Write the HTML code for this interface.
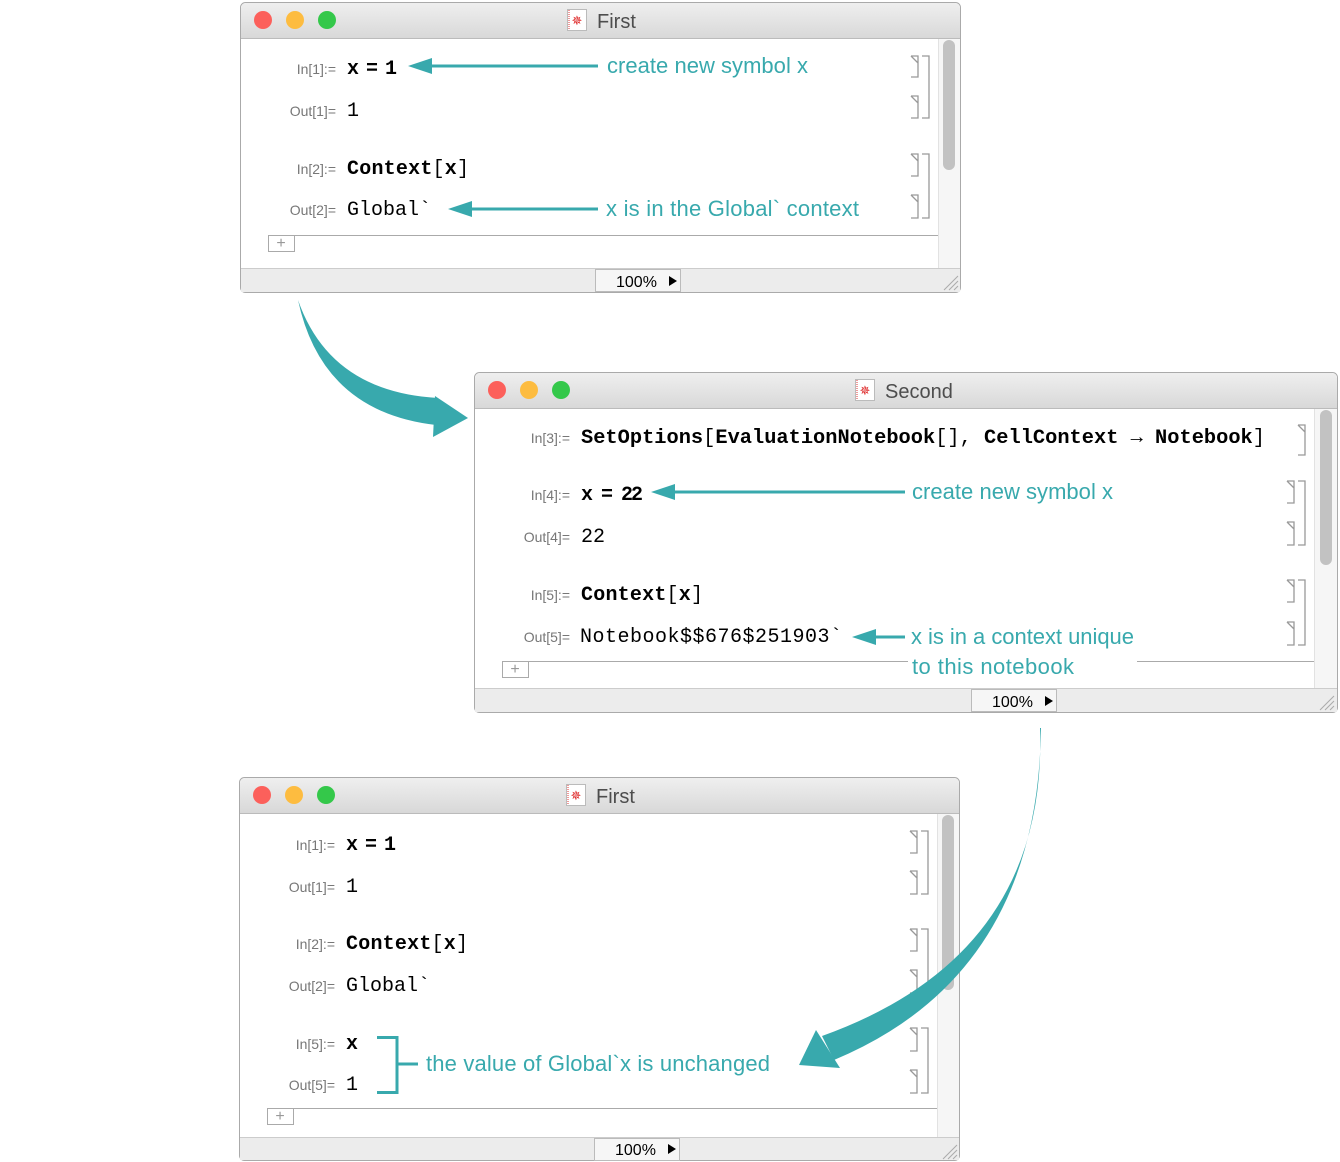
<!DOCTYPE html>
<html><head><meta charset="utf-8"><style>
html,body{margin:0;padding:0;background:#fff;width:1340px;height:1162px;overflow:hidden}
svg{display:block}
.lb{font-family:"Liberation Sans",sans-serif;font-size:14px;fill:#777}
.cd{font-family:"Liberation Mono",monospace;font-size:20px;fill:#000}
.b{font-weight:bold}
.an{font-family:"Liberation Sans",sans-serif;font-size:22px;fill:#38a9ad}
.tt{font-family:"Liberation Sans",sans-serif;font-size:20px;fill:#4d4d4d}
.st{font-family:"Liberation Sans",sans-serif;font-size:16px;fill:#000}
.br{fill:none;stroke:#999;stroke-width:1.3}
</style></head><body>
<svg width="1340" height="1162" viewBox="0 0 1340 1162" xmlns="http://www.w3.org/2000/svg">
<defs>
<linearGradient id="tg" x1="0" y1="0" x2="0" y2="1"><stop offset="0" stop-color="#efefef"/><stop offset="1" stop-color="#d8d8d8"/></linearGradient>
<symbol id="ic" viewBox="0 0 20 22"><rect x="0.5" y="0.5" width="19" height="21" fill="#fff" stroke="#bbb"/><line x1="2" y1="1" x2="2" y2="21" stroke="#d33" stroke-dasharray="1 1"/><text x="10" y="16" font-size="13" text-anchor="middle" fill="#d22" font-family="DejaVu Sans">✵</text></symbol>
</defs>

<!-- WINDOW 1 -->
<g>
<rect x="240.5" y="2.5" width="720" height="290" rx="5" fill="#fff" stroke="#aaa"/>
<path d="M241 38 V8 a5 5 0 0 1 5 -5 H955 a5 5 0 0 1 5 5 V38 Z" fill="url(#tg)"/>
<line x1="241" y1="38.5" x2="960" y2="38.5" stroke="#bbb"/>
<circle cx="263" cy="20" r="9" fill="#fc605b"/><circle cx="295" cy="20" r="9" fill="#fdbc40"/><circle cx="327" cy="20" r="9" fill="#34c84a"/>
<use href="#ic" x="567" y="9" width="20" height="22"/>
<text x="597" y="28" class="tt">First</text>
<rect x="938" y="39" width="22" height="229" fill="#f6f6f6"/><line x1="938.5" y1="39" x2="938.5" y2="268" stroke="#e2e2e2"/>
<rect x="943" y="40" width="12" height="130" rx="6" fill="#c2c2c2"/>
<rect x="241" y="268" width="719" height="24" fill="#ececec"/><line x1="241" y1="268.5" x2="960" y2="268.5" stroke="#ccc"/>
<rect x="595.5" y="269.5" width="85" height="22" fill="#f6f6f6" stroke="#bbb"/>
<text x="616" y="287" class="st">100%</text><path d="M669 276 L677 281 L669 286 Z" fill="#000"/>
<path d="M944 290 L958 276 M949 290 L958 281 M954 290 L958 286" stroke="#aaa"/>
<line x1="268" y1="235.5" x2="938" y2="235.5" stroke="#aaa"/>
<path d="M268.5 236 V251.5 H294.5 V236" fill="none" stroke="#aaa"/><text x="281" y="248" font-size="16" fill="#999" text-anchor="middle" font-family="Liberation Sans">+</text>
<text x="336" y="74" class="lb" text-anchor="end">In[1]:=</text>
<text x="347" y="74" class="cd b" textLength="50">x = 1</text>
<text x="336" y="116" class="lb" text-anchor="end">Out[1]=</text>
<text x="347" y="116" class="cd">1</text>
<text x="336" y="174" class="lb" text-anchor="end">In[2]:=</text>
<text x="347" y="174" class="cd" textLength="122"><tspan class="b">Context</tspan>[<tspan class="b">x</tspan>]</text>
<text x="336" y="215" class="lb" text-anchor="end">Out[2]=</text>
<text x="347" y="215" class="cd" textLength="84">Global`</text>
<path class="br" d="M911 56 H918 V77 H911 M911 56 L918 63 M911 96 H918 V118 H911 M911 96 L918 103 M922 56 H929 V118 H922 M911 154 H918 V176 H911 M911 154 L918 161 M911 195 H918 V218 H911 M911 195 L918 202 M922 154 H929 V218 H922"/>
</g>

<!-- WINDOW 2 -->
<g>
<rect x="474.5" y="372.5" width="863" height="340" rx="5" fill="#fff" stroke="#aaa"/>
<path d="M475 408 V378 a5 5 0 0 1 5 -5 H1332 a5 5 0 0 1 5 5 V408 Z" fill="url(#tg)"/>
<line x1="475" y1="408.5" x2="1337" y2="408.5" stroke="#bbb"/>
<circle cx="497" cy="390" r="9" fill="#fc605b"/><circle cx="529" cy="390" r="9" fill="#fdbc40"/><circle cx="561" cy="390" r="9" fill="#34c84a"/>
<use href="#ic" x="855" y="379" width="20" height="22"/>
<text x="885" y="398" class="tt">Second</text>
<rect x="1314" y="409" width="23" height="279" fill="#f6f6f6"/><line x1="1314.5" y1="409" x2="1314.5" y2="688" stroke="#e2e2e2"/>
<rect x="1320" y="410" width="12" height="155" rx="6" fill="#c2c2c2"/>
<rect x="475" y="688" width="862" height="24" fill="#ececec"/><line x1="475" y1="688.5" x2="1337" y2="688.5" stroke="#ccc"/>
<rect x="971.5" y="689.5" width="85" height="22" fill="#f6f6f6" stroke="#bbb"/>
<text x="992" y="707" class="st">100%</text><path d="M1045 696 L1053 701 L1045 706 Z" fill="#000"/>
<path d="M1320 710 L1334 696 M1325 710 L1334 701 M1330 710 L1334 706" stroke="#aaa"/>
<line x1="502" y1="661.5" x2="908" y2="661.5" stroke="#aaa"/><line x1="1137" y1="661.5" x2="1314" y2="661.5" stroke="#aaa"/>
<path d="M502.5 662 V677.5 H528.5 V662" fill="none" stroke="#aaa"/><text x="515" y="674" font-size="16" fill="#999" text-anchor="middle" font-family="Liberation Sans">+</text>
<text x="570" y="443" class="lb" text-anchor="end">In[3]:=</text>
<text x="581" y="443" class="cd" textLength="684" lengthAdjust="spacingAndGlyphs"><tspan class="b">SetOptions</tspan>[<tspan class="b">EvaluationNotebook</tspan>[], <tspan class="b">CellContext</tspan> → <tspan class="b">Notebook</tspan>]</text>
<text x="570" y="500" class="lb" text-anchor="end">In[4]:=</text>
<text x="581" y="500" class="cd b" textLength="62">x = 22</text>
<text x="570" y="542" class="lb" text-anchor="end">Out[4]=</text>
<text x="581" y="542" class="cd">22</text>
<text x="570" y="600" class="lb" text-anchor="end">In[5]:=</text>
<text x="581" y="600" class="cd" textLength="122"><tspan class="b">Context</tspan>[<tspan class="b">x</tspan>]</text>
<text x="570" y="642" class="lb" text-anchor="end">Out[5]=</text>
<text x="580" y="642" class="cd" textLength="262">Notebook$$676$251903`</text>
<path class="br" d="M1298 425 H1305 V455 H1298 M1298 425 L1305 432 M1287 481 H1294 V503 H1287 M1287 481 L1294 488 M1287 522 H1294 V545 H1287 M1287 522 L1294 529 M1298 481 H1305 V545 H1298 M1287 580 H1294 V602 H1287 M1287 580 L1294 587 M1287 622 H1294 V645 H1287 M1287 622 L1294 629 M1298 580 H1305 V645 H1298"/>
</g>

<!-- WINDOW 3 -->
<g>
<rect x="239.5" y="777.5" width="720" height="383" rx="5" fill="#fff" stroke="#aaa"/>
<path d="M240 813 V783 a5 5 0 0 1 5 -5 H954 a5 5 0 0 1 5 5 V813 Z" fill="url(#tg)"/>
<line x1="240" y1="813.5" x2="959" y2="813.5" stroke="#bbb"/>
<circle cx="262" cy="795" r="9" fill="#fc605b"/><circle cx="294" cy="795" r="9" fill="#fdbc40"/><circle cx="326" cy="795" r="9" fill="#34c84a"/>
<use href="#ic" x="566" y="784" width="20" height="22"/>
<text x="596" y="803" class="tt">First</text>
<rect x="937" y="814" width="22" height="323" fill="#f6f6f6"/><line x1="937.5" y1="814" x2="937.5" y2="1137" stroke="#e2e2e2"/>
<rect x="942" y="815" width="12" height="175" rx="6" fill="#c2c2c2"/>
<rect x="240" y="1137" width="719" height="23" fill="#ececec"/><line x1="240" y1="1137.5" x2="959" y2="1137.5" stroke="#ccc"/>
<rect x="594.5" y="1138.5" width="85" height="22" fill="#f6f6f6" stroke="#bbb"/>
<text x="615" y="1155" class="st">100%</text><path d="M668 1144 L676 1149 L668 1154 Z" fill="#000"/>
<path d="M943 1159 L957 1145 M948 1159 L957 1150 M953 1159 L957 1155" stroke="#aaa"/>
<line x1="267" y1="1108.5" x2="937" y2="1108.5" stroke="#aaa"/>
<path d="M267.5 1109 V1124.5 H293.5 V1109" fill="none" stroke="#aaa"/><text x="280" y="1121" font-size="16" fill="#999" text-anchor="middle" font-family="Liberation Sans">+</text>
<text x="335" y="850" class="lb" text-anchor="end">In[1]:=</text>
<text x="346" y="850" class="cd b" textLength="50">x = 1</text>
<text x="335" y="892" class="lb" text-anchor="end">Out[1]=</text>
<text x="346" y="892" class="cd">1</text>
<text x="335" y="949" class="lb" text-anchor="end">In[2]:=</text>
<text x="346" y="949" class="cd" textLength="122"><tspan class="b">Context</tspan>[<tspan class="b">x</tspan>]</text>
<text x="335" y="991" class="lb" text-anchor="end">Out[2]=</text>
<text x="346" y="991" class="cd" textLength="84">Global`</text>
<text x="335" y="1049" class="lb" text-anchor="end">In[5]:=</text>
<text x="346" y="1049" class="cd b">x</text>
<text x="335" y="1090" class="lb" text-anchor="end">Out[5]=</text>
<text x="346" y="1090" class="cd">1</text>
<path class="br" d="M910 831 H917 V853 H910 M910 831 L917 838 M910 871 H917 V894 H910 M910 871 L917 878 M921 831 H928 V894 H921 M910 929 H917 V951 H910 M910 929 L917 936 M910 970 H917 V993 H910 M910 970 L917 977 M921 929 H928 V993 H921 M910 1028 H917 V1051 H910 M910 1028 L917 1035 M910 1070 H917 V1093 H910 M910 1070 L917 1077 M921 1028 H928 V1093 H921"/>
</g>

<!-- ANNOTATIONS -->
<g fill="#38a9ad" stroke="none">
<rect x="428" y="64.5" width="170" height="3"/><path d="M408 66 L432 58 L432 74 Z"/>
<rect x="468" y="207.5" width="130" height="3"/><path d="M448 209 L472 201 L472 217 Z"/>
<rect x="671" y="490.5" width="234" height="3"/><path d="M651 492 L675 484 L675 500 Z"/>
<rect x="872" y="635.5" width="33" height="3"/><path d="M852 637 L876 629 L876 645 Z"/>
<path d="M298 300 Q330 392 438 398 L436 425 Q322 412 298 300 Z"/>
<path d="M435 396 L468 418 L433 437 Z"/>
<path d="M1040 728 Q1048 955 822 1036 L834 1060 Q1038 975 1041 728 Z"/>
<path d="M816 1030 L799 1065 L840 1068 Z"/>
</g>
<path d="M377 1037.5 H397 V1092.5 H377 M397 1064 H418" fill="none" stroke="#38a9ad" stroke-width="3"/>
<text x="607" y="73" class="an" textLength="201">create new symbol x</text>
<text x="606" y="216" class="an" textLength="253">x is in the Global` context</text>
<text x="912" y="499" class="an" textLength="201">create new symbol x</text>
<text x="911" y="644" class="an" textLength="223">x is in a context unique</text>
<text x="912" y="674" class="an" textLength="162">to this notebook</text>
<text x="426" y="1071" class="an" textLength="344">the value of Global`x is unchanged</text>
</svg>
</body></html>
